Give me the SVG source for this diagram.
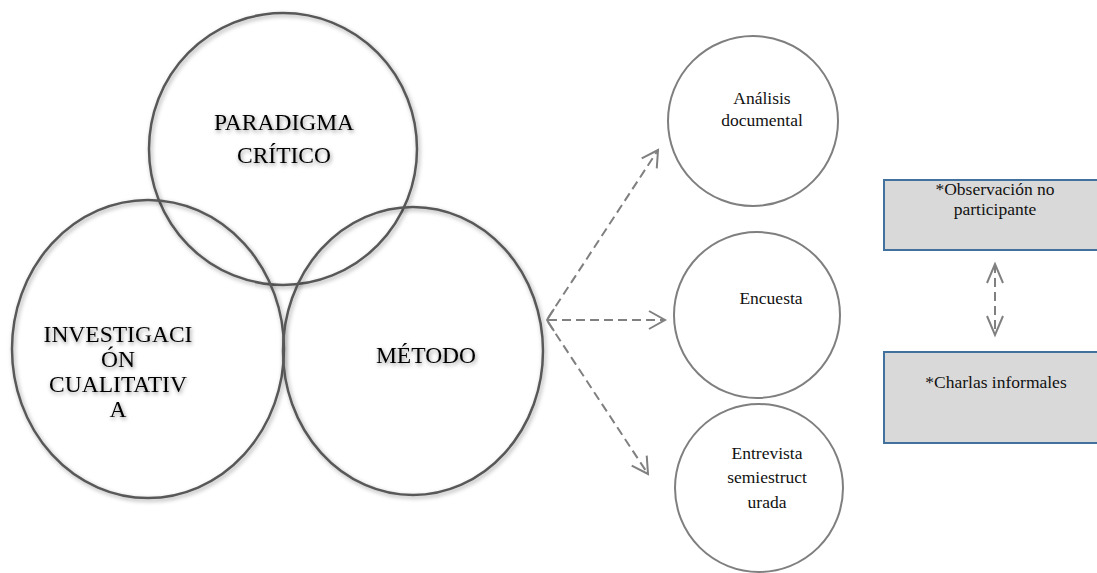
<svg xmlns="http://www.w3.org/2000/svg" width="1097" height="573" viewBox="0 0 1097 573">
  <style>
    .big { fill: none; stroke: #595959; stroke-width: 2.5; filter: url(#soft); }
    .bigtxt { font-family: "Liberation Serif", serif; font-size: 23.5px; fill: #000; text-anchor: middle; filter: url(#txtshadow); }
    .small { fill: #fff; stroke: #7f7f7f; stroke-width: 2; }
    .txt { font-family: "Liberation Serif", serif; font-size: 17.5px; fill: #111; text-anchor: middle; }
    .box { fill: #d9d9d9; stroke: #41719c; stroke-width: 2; }
    .dash { fill: none; stroke: #808080; stroke-width: 2; stroke-dasharray: 9 5; }
    .head { fill: none; stroke: #808080; stroke-width: 2; stroke-dasharray: none; stroke-linejoin: miter; }
  </style>
  <defs>
    <filter id="soft" x="-10%" y="-10%" width="120%" height="120%">
      <feDropShadow dx="1.5" dy="2" stdDeviation="2" flood-color="#000" flood-opacity="0.35"/>
    </filter>
    <filter id="txtshadow" x="-10%" y="-30%" width="120%" height="160%">
      <feDropShadow dx="1" dy="2" stdDeviation="2" flood-color="#000" flood-opacity="0.45"/>
    </filter>
    <marker id="open" markerUnits="userSpaceOnUse" viewBox="-20 -12 24 24" markerWidth="24" markerHeight="24" refX="0" refY="0" orient="auto" overflow="visible">
      <path class="head" d="M-16,-9 L0,0 L-16,9"/>
    </marker>
    <marker id="openV" markerUnits="userSpaceOnUse" viewBox="-22 -12 26 24" markerWidth="26" markerHeight="24" refX="0" refY="0" orient="auto-start-reverse" overflow="visible">
      <path class="head" d="M-19,-8 L0,0 L-19,8"/>
    </marker>
  </defs>

  <rect width="1097" height="573" fill="#fff"/>

  <!-- overlapping concept circles -->
  <g id="paradigma">
    <ellipse class="big" cx="283" cy="149" rx="134" ry="136"/>
    <text class="bigtxt" x="284" y="130">PARADIGMA</text>
    <text class="bigtxt" x="284" y="163">CRÍTICO</text>
  </g>
  <g id="investigacion">
    <ellipse class="big" cx="148" cy="349" rx="136" ry="149"/>
    <text class="bigtxt" x="118" y="342">INVESTIGACI</text>
    <text class="bigtxt" x="118" y="367">ÓN</text>
    <text class="bigtxt" x="118" y="392">CUALITATIV</text>
    <text class="bigtxt" x="118" y="417">A</text>
  </g>
  <g id="metodo">
    <ellipse class="big" cx="413" cy="351" rx="130" ry="144"/>
    <text class="bigtxt" x="426" y="363">MÉTODO</text>
  </g>

  <!-- technique circles -->
  <g id="analisis">
    <circle class="small" cx="753" cy="121" r="85"/>
    <text class="txt" x="762" y="104">Análisis</text>
    <text class="txt" x="762" y="126">documental</text>
  </g>
  <g id="encuesta">
    <circle class="small" cx="757" cy="315" r="83"/>
    <text class="txt" x="771" y="304">Encuesta</text>
  </g>
  <g id="entrevista">
    <circle class="small" cx="759" cy="488" r="84"/>
    <text class="txt" x="767" y="459">Entrevista</text>
    <text class="txt" x="767" y="483">semiestruct</text>
    <text class="txt" x="767" y="508">urada</text>
  </g>

  <!-- instrument boxes -->
  <g id="observacion">
    <rect class="box" x="884" y="180" width="216" height="70"/>
    <text class="txt" x="995" y="195">*Observación no</text>
    <text class="txt" x="995" y="215">participante</text>
  </g>
  <g id="charlas">
    <rect class="box" x="884" y="352" width="216" height="91"/>
    <text class="txt" x="996" y="388">*Charlas informales</text>
  </g>

  <!-- connectors -->
  <g id="connectors">
    <path class="head" d="M554,309 L547,320 L554,331"/>
    <line class="dash" x1="548" y1="318" x2="658" y2="150" marker-end="url(#open)"/>
    <line class="dash" x1="548" y1="320" x2="665" y2="320" marker-end="url(#open)"/>
    <line class="dash" x1="548" y1="322" x2="648" y2="474" marker-end="url(#open)"/>
    <line class="dash" x1="995" y1="264" x2="995" y2="335" marker-start="url(#openV)" marker-end="url(#openV)"/>
  </g>
</svg>
